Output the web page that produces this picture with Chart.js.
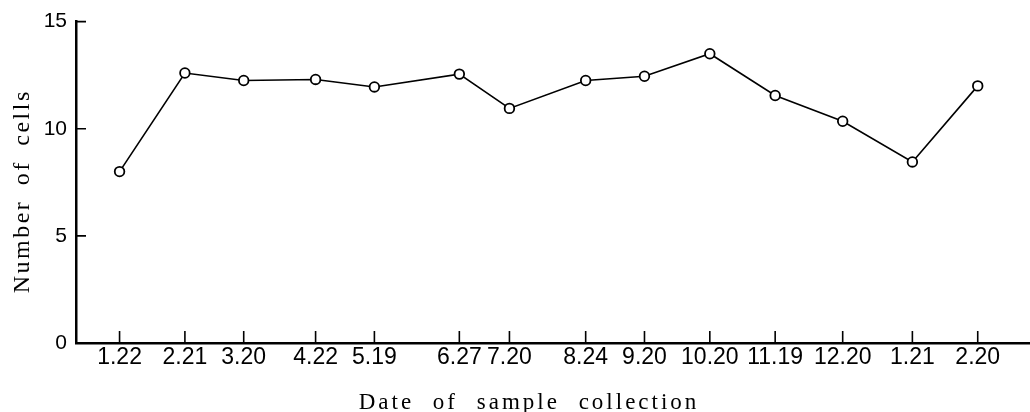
<!DOCTYPE html>
<html>
<head>
<meta charset="utf-8">
<script src="https://cdn.jsdelivr.net/npm/chart.js@4.4.1/dist/chart.umd.min.js"></script>
<style>
  html, body { margin: 0; padding: 0; background: #fff; }
  #wrap { width: 1030px; height: 412px; }
</style>
</head>
<body>
<div id="wrap"><canvas id="cellsChart"></canvas></div>
<script>
  // days after the first sampling (1.22) - the axis is spaced by real dates
  const dayOffsets = [0, 30, 57, 90, 117, 156, 179, 214, 241, 271, 301, 332, 364, 394]
  const dateLabels = ['1.22', '2.21', '3.20', '4.22', '5.19', '6.27', '7.20', '8.24', '9.20', '10.20', '11.19', '12.20', '1.21', '2.20']
  const cellCounts = [8.0, 12.6, 12.25, 12.3, 11.95, 12.55, 10.95, 12.25, 12.45, 13.5, 11.55, 10.35, 8.45, 12.0]
  const yTicks = [0, 5, 10, 15]

  const tickFont = '"Liberation Sans", Arial, sans-serif'
  const titleFont = '"Liberation Serif", "DejaVu Serif", serif'

  // tick marks pointing into the plot, like the printed figure
  const innerTicks = {
    id: 'innerTicks',
    afterDraw(chart) {
      const {ctx, chartArea, scales} = chart
      ctx.save()
      ctx.strokeStyle = '#000'
      ctx.lineWidth = 1.6
      ctx.beginPath()
      scales.x.ticks.forEach(t => {
        const px = scales.x.getPixelForValue(t.value)
        ctx.moveTo(px, chartArea.bottom)
        ctx.lineTo(px, chartArea.bottom - 12)
      })
      scales.y.ticks.forEach(t => {
        const py = scales.y.getPixelForValue(t.value)
        ctx.moveTo(chartArea.left, py)
        ctx.lineTo(chartArea.left + 10, py)
      })
      ctx.stroke()
      ctx.restore()
    }
  }

  // wide letter spacing on the axis titles
  const spacedTitles = {
    id: 'spacedTitles',
    beforeDraw(chart) {
      const settings = [
        ['x', '3px', '10px', -24, 0],
        ['y', '2.5px', '6px', 0, 9]
      ]
      settings.forEach(([id, ls, ws, dx, dy]) => {
        const scale = chart.scales[id]
        const base = Object.getPrototypeOf(scale).drawTitle
        scale.drawTitle = function () {
          const ctx = this.ctx
          ctx.save()
          ctx.letterSpacing = ls
          ctx.wordSpacing = ws
          ctx.translate(dx, dy)
          base.call(this)
          ctx.restore()
        }
      })
    }
  }

  const points = dayOffsets.map((d, i) => ({x: d, y: cellCounts[i]}))

  new Chart(document.getElementById('cellsChart'), {
    type: 'line',
    data: {
      datasets: [{
        data: points,
        borderColor: '#000',
        borderWidth: 1.6,
        pointRadius: 4.8,
        pointBorderWidth: 1.8,
        pointBackgroundColor: '#fff',
        pointBorderColor: '#000',
        tension: 0,
        clip: false
      }]
    },
    options: {
      responsive: true,
      maintainAspectRatio: false,
      animation: false,
      layout: { autoPadding: false, padding: { top: 19, right: 0, bottom: 0, left: 0 } },
      plugins: {
        legend: { display: false },
        tooltip: { enabled: false }
      },
      scales: {
        x: {
          type: 'linear',
          min: -20,
          max: 418,
          afterBuildTicks: s => { s.ticks = dayOffsets.map(v => ({value: v})) },
          afterFit: s => {
            s.height = 69
            s.paddingLeft = 0
            s.paddingRight = 0
          },
          grid: { display: false, drawTicks: false },
          border: { display: true, color: '#000', width: 2.5 },
          ticks: {
            color: '#000',
            padding: 1,
            autoSkip: false,
            maxRotation: 0,
            font: { family: tickFont, size: 23 },
            callback: v => dateLabels[dayOffsets.indexOf(v)]
          },
          title: {
            display: true,
            text: 'Date of sample collection',
            color: '#000',
            font: { family: titleFont, size: 23 },
            padding: { top: 0, bottom: -5 }
          }
        },
        y: {
          min: 0,
          max: 15,
          afterBuildTicks: s => { s.ticks = yTicks.map(v => ({value: v})) },
          afterFit: s => { s.width = 76 },
          grid: { display: false, drawTicks: false },
          border: { display: true, color: '#000', width: 2.5 },
          ticks: {
            color: '#000',
            padding: 9,
            font: { family: tickFont, size: 21 }
          },
          title: {
            display: true,
            text: 'Number of cells',
            color: '#000',
            font: { family: titleFont, size: 24 },
            padding: { top: 8, bottom: 0 }
          }
        }
      }
    },
    plugins: [innerTicks, spacedTitles]
  })
</script>
</body>
</html>
